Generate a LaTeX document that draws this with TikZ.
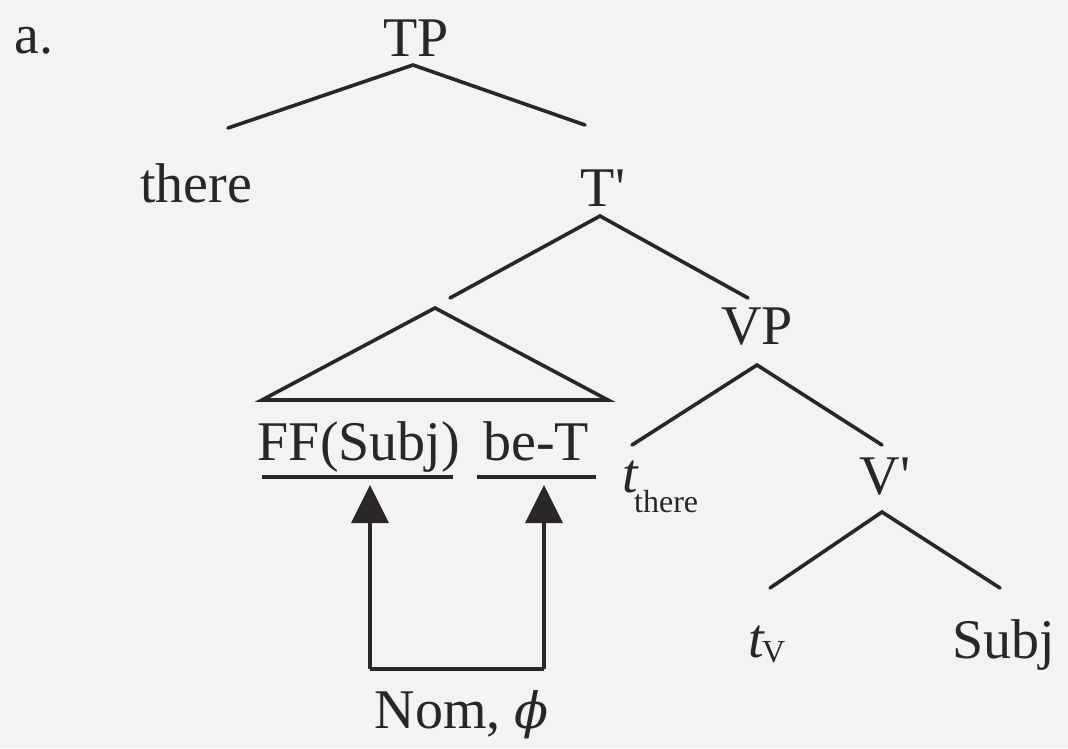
\documentclass[tikz,border=0pt]{standalone}
\usepackage{fontspec}
\setmainfont{Liberation Serif}
\newfontfamily\grk{DejaVu Serif}
\usetikzlibrary{arrows.meta}
\begin{document}
\begin{tikzpicture}[x=1pt,y=-1pt,
  lbl/.style={inner sep=0pt,text=ink,font=\fontsize{56}{66}\selectfont,anchor=base},
  sub/.style={inner sep=0pt,text=ink,font=\fontsize{32}{38}\selectfont,anchor=base west},
  edge/.style={draw=ink,line width=3.6pt,line cap=round},
  uline/.style={draw=ink,line width=3.6pt},
  feat/.style={draw=ink,line width=3.6pt,-{Triangle[width=37pt,length=38pt]}}]
\definecolor{ink}{HTML}{2B2626}
\definecolor{paper}{HTML}{F3F3F1}
\fill[paper] (0,0) rectangle (1068,748);
\useasboundingbox (0,0) rectangle (1068,748);

% node labels
\node[lbl] (ex) at (34,53) {a.};
\node[lbl] (TP) at (416,56) {TP};
\node[lbl] (there) at (196,202) {there};
\node[lbl] (Tb) at (603,206) {T\textquotesingle};
\node[lbl] (VP) at (757,344) {VP};
\node[lbl] (FF) at (359,460) {FF(Subj)};
\node[lbl] (beT) at (536,460) {be-T};
\node[lbl,anchor=base west] (tthere) at (622,492) {\textit{t}};
\node[sub] (tthsub) at (634,512) {there};
\node[lbl] (Vb) at (885,494) {V\textquotesingle};
\node[lbl,anchor=base west] (tv) at (748,657) {\textit{t}};
\node[sub] (tvsub) at (762,662) {V};
\node[lbl] (Subj) at (1004,658) {Subj};
\node[lbl] (Nom) at (462,728) {Nom,\hspace{14pt}{\grk\itshape\fontsize{50}{60}\selectfont ϕ}};

% branch points
\coordinate (TPa) at (413,65);
\coordinate (therea) at (228,128);
\coordinate (Tba) at (585,125);
\coordinate (Tbb) at (600,216);
\coordinate (tril) at (450,298);
\coordinate (VPa) at (748,298);
\coordinate (VPb) at (757,365);
\coordinate (tta) at (632,445);
\coordinate (Vba) at (882,445);
\coordinate (Vbb) at (882,512);
\coordinate (tva) at (770,588);
\coordinate (Subja) at (1000,588);
\coordinate (triA) at (435,308);
\coordinate (triL) at (262,400);
\coordinate (triR) at (608,400);

% tree edges
\draw[edge] (therea) -- (TPa) -- (Tba);
\draw[edge] (tril) -- (Tbb) -- (VPa);
\draw[edge] (tta) -- (VPb) -- (Vba);
\draw[edge] (tva) -- (Vbb) -- (Subja);
\draw[edge,line join=miter] (triA) -- (triL) -- (triR) -- cycle;

% underlines
\coordinate (FFl) at (262,477);
\coordinate (FFr) at (453,477);
\coordinate (bel) at (477,477);
\coordinate (ber) at (596,477);
\draw[uline] (FFl) -- (FFr);
\draw[uline] (bel) -- (ber);

% feature-checking arrows
\coordinate (fA) at (370,485);
\coordinate (fB) at (544,485);
\coordinate (fAb) at (370,669);
\coordinate (fBb) at (544,669);
\draw[draw=ink,line width=3.6pt] (fAb) -- (fBb);
\draw[feat] (fAb) -- (fA);
\draw[feat] (fBb) -- (fB);
\end{tikzpicture}
\end{document}
